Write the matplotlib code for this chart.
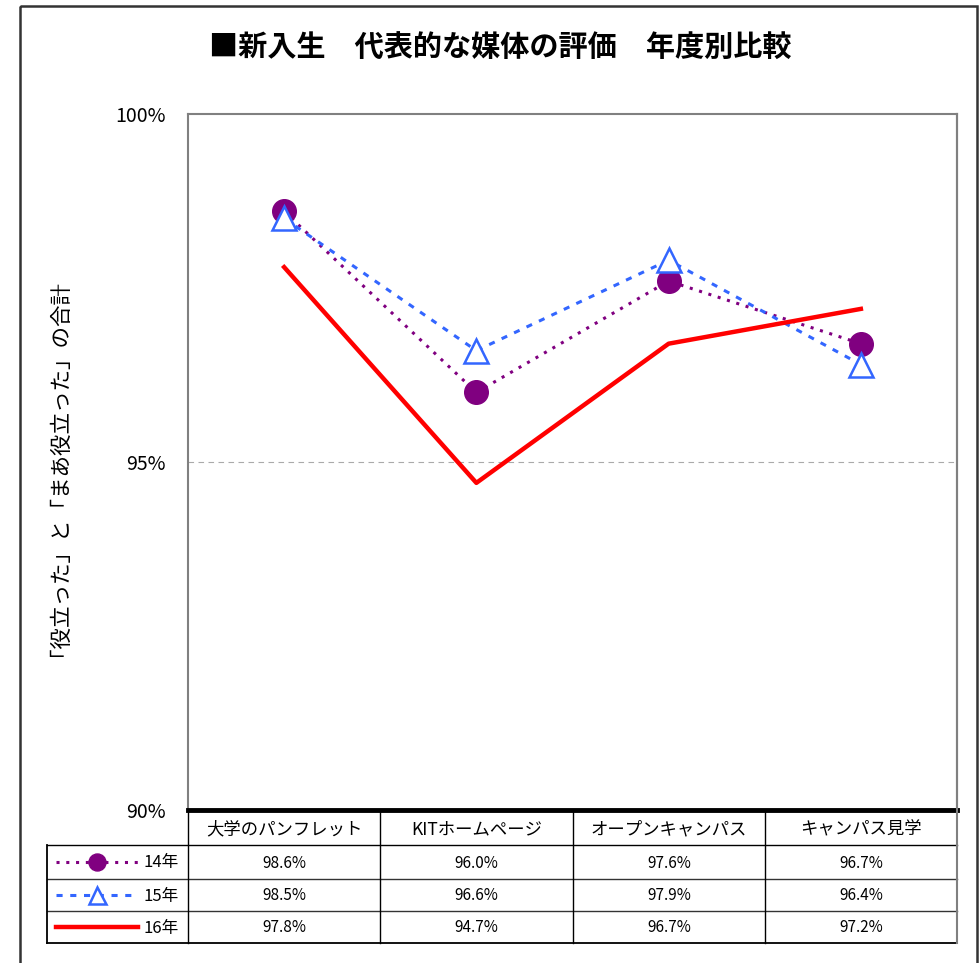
import numpy as np
import matplotlib
matplotlib.use('Agg')
import matplotlib.pyplot as plt
from matplotlib.lines import Line2D
from matplotlib.patches import Rectangle

plt.rcParams['font.family'] = ['Noto Sans CJK JP', 'DejaVu Sans']

# data
categories = ['大学のパンフレット', 'KITホームページ', 'オープンキャンパス', 'キャンパス見学']
series_names = ['14年', '15年', '16年']
v14 = [98.6, 96.0, 97.6, 96.7]
v15 = [98.5, 96.6, 97.9, 96.4]
v16 = [97.8, 94.7, 96.7, 97.2]
yticks = [90, 95, 100]

W, H = 980, 963
fig = plt.figure(figsize=(W / 100, H / 100), dpi=100)

# plot area in pixels
px_l, px_r, px_t, px_b = 188, 957, 114, 810
ax = fig.add_axes([px_l / W, 1 - px_b / H, (px_r - px_l) / W, (px_b - px_t) / H])

styles = [
    dict(color='#800080', linestyle=(0, (1, 2.2)), linewidth=2.2, marker='o',
         markersize=17, markerfacecolor='#800080', markeredgecolor='#800080'),
    dict(color='#3366FF', linestyle=(0, (2, 2.5)), linewidth=2.2, marker='^',
         markersize=17, markerfacecolor='white', markeredgecolor='#3366FF', markeredgewidth=1.8),
    dict(color='#FF0000', linestyle='-', linewidth=3.2, marker=None),
]
x = np.arange(len(categories))
for vals, st in zip([v14, v15, v16], styles):
    ax.plot(x, vals, zorder=3, **st)

ax.set_xlim(-0.5, len(categories) - 0.5)
ax.set_ylim(90, 100)
ax.set_yticks(yticks)
ax.set_yticklabels([f'{t}%' for t in yticks], fontsize=14)
ax.set_xticks([])
ax.tick_params(axis='y', length=0, pad=16)
ax.axhline(95, color='#AAAAAA', linestyle=(0, (5, 4)), linewidth=0.8, zorder=1)
for s in ['left', 'top', 'right']:
    ax.spines[s].set_color('#808080')
    ax.spines[s].set_linewidth(1.5)
ax.spines['bottom'].set_color('black')
ax.spines['bottom'].set_linewidth(3.5)
ax.set_ylabel('「役立った」と「まあ役立った」の合計', fontsize=15.5, labelpad=40)

# overlay for frame, title and table
ov = fig.add_axes([0, 0, 1, 1], zorder=-1)
ov.set_xlim(0, W)
ov.set_ylim(H, 0)
ov.axis('off')
ov.add_patch(Rectangle((20, 6), 957, 980, fill=False, edgecolor='#333333', linewidth=1.8))

fig.text(500 / W, 1 - 48 / H, '■新入生　代表的な媒体の評価　年度別比較', fontsize=21,
         fontweight='bold', ha='center', va='center')

# table
top = fig.add_axes([0, 0, 1, 1], zorder=5)
top.set_xlim(0, W)
top.set_ylim(H, 0)
top.axis('off')
col_x = [188, 380, 573, 765, 957]
row_y = [812, 845, 879, 911, 943]
tl = 47
lw = 1.0
for yy in row_y[2:4]:
    top.plot([tl, col_x[-1]], [yy, yy], color='#333333', lw=lw)
top.plot([tl, col_x[-1]], [row_y[1], row_y[1]], color='black', lw=lw)
top.plot([tl, col_x[-1]], [row_y[-1], row_y[-1]], color='black', lw=1.3)
top.plot([tl, tl], [row_y[1], row_y[-1]], color='black', lw=1.3)
for cx in col_x[:-1]:
    top.plot([cx, cx], [row_y[0], row_y[-1]], color='black', lw=lw)
top.plot([col_x[-1], col_x[-1]], [px_t, row_y[-1]], color='#808080', lw=1.5)

for i, c in enumerate(categories):
    top.text((col_x[i] + col_x[i + 1]) / 2, (row_y[0] + row_y[1]) / 2 + 1, c,
             ha='center', va='center', fontsize=12.5)

for r, (name, vals, st) in enumerate(zip(series_names, [v14, v15, v16], styles)):
    yc = (row_y[r + 1] + row_y[r + 2]) / 2
    st2 = dict(st)
    if st2.get('marker'):
        st2['markersize'] = st2['markersize'] * 0.72
    top.add_line(Line2D([56, 97, 138], [yc, yc, yc], markevery=[1], **st2))
    top.text(179, yc + 1, name, ha='right', va='center', fontsize=12)
    for i, v in enumerate(vals):
        top.text((col_x[i] + col_x[i + 1]) / 2, yc + 1, f'{v:.1f}%',
                 ha='center', va='center', fontsize=11)

fig.savefig('out.png', dpi=100)
